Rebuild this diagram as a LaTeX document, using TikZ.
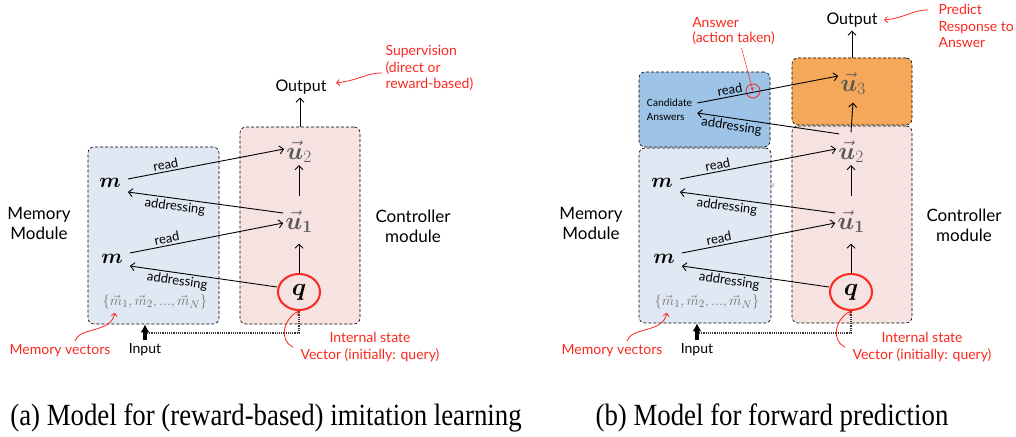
\documentclass[tikz,border=0pt]{standalone}
\usepackage{bm}
\usepackage{fontspec}
\setmainfont{Lato}
\newfontfamily\capfont{Liberation Serif}
\newfontfamily\calfont{Carlito}
\usetikzlibrary{arrows.meta,shapes.geometric,calc}
\definecolor{memblue}{RGB}{224,232,243}
\definecolor{ctrlpink}{RGB}{245,226,225}
\definecolor{candblue}{RGB}{157,195,230}
\definecolor{orng}{RGB}{246,168,90}
\definecolor{annot}{RGB}{250,40,30}
\definecolor{ugray}{RGB}{90,90,90}
\tikzset{
 box/.style={draw=black, densely dashed, rounded corners=6pt, line width=0.6pt, inner sep=0pt},
 arr/.style={line width=0.9pt, -{Straight Barb[length=4pt,width=8pt]}},
 lbl/.style={font=\fontsize{13}{15}\selectfont, inner sep=2pt},
 mnode/.style={font=\fontsize{21}{23}\selectfont, inner xsep=7pt, inner ysep=2pt},
 unode/.style={font=\fontsize{24}{26}\selectfont, text=ugray, inner sep=2pt},
 qnode/.style={ellipse, draw=annot, line width=2pt, minimum width=42pt, minimum height=36pt, inner sep=0pt, font=\fontsize{23}{25}\selectfont},
 big/.style={font=\fontsize{17}{20}\selectfont, align=center},
 outtxt/.style={font=\fontsize{16}{18}\selectfont},
 annotxt/.style={text=annot, font=\fontsize{14}{16.5}\selectfont},
 annarr/.style={draw=annot, line width=0.8pt, -{Straight Barb[length=3pt,width=6pt]}},
 inarr/.style={line width=3.2pt, -{Latex[length=8pt,width=9pt]}},
 feed/.style={densely dotted, line width=1.2pt, black!80},
 setnode/.style={font=\fontsize{15}{17}\selectfont, text=black!55},
 capt/.style={font=\capfont\fontsize{26.8}{30}\selectfont}
}
\begin{document}
\begin{tikzpicture}[x=1pt,y=-1pt]
\useasboundingbox (0,0) rectangle (1016,436);

% ================= panel (a) =================
\node[box, fill=memblue, minimum width=131pt, minimum height=177pt] (memA) at (153.5,235.5) {};
\node[box, fill=ctrlpink, minimum width=120pt, minimum height=197pt] (ctrlA) at (300,225.5) {};

\node[mnode] (ma1) at (110,183) {$\bm{m}$};
\node[mnode] (ma0) at (112,259) {$\bm{m}$};
\node[setnode] (seta) at (155,302) {$\{\vec{m}_1, \vec{m}_2, ..., \vec{m}_N\}$};
\node[unode] (ua2) at (299,152) {$\vec{\bm{u}}_2$};
\node[unode] (ua1) at (299,222) {$\vec{\bm{u}}_{\bm{1}}$};
\node[qnode] (qa) at (299,292) {$\bm{q}$};
\node[outtxt] (outA) at (301,87) {Output};
\node[big] (memlabA) at (39,223) {Memory\\Module};
\node[big] (ctrllabA) at (413,226) {Controller\\module};
\node[annotxt, align=left, anchor=west] (supA) at (382,68) {Supervision\\(direct or\\reward-based)};
\node[annotxt] (mvA) at (60,351) {Memory vectors};
\node[font=\fontsize{14}{16}\selectfont] (inA) at (145,350) {Input};
\node[annotxt, align=center] (isA) at (370,347) {Internal state\\Vector (initially: query)};
\coordinate (fa) at (147,333);

\draw[arr] (ctrlA.north) -- (ctrlA.north |- outA.south);
\draw[arr] (qa.north) -- ([yshift=-8.5pt]ua1.south);
\draw[arr] ([yshift=12.5pt]ua1.north) -- (ua2.south);
\draw[arr] ([yshift=4pt]ma1.east) -- node[lbl, above, sloped, pos=0.25]{read} ([yshift=3pt]ua2.west);
\draw[arr] ([yshift=9pt]ua1.west) -- node[lbl, below, sloped, pos=0.69]{addressing} ([yshift=-9pt]ma1.east);
\draw[arr] ([yshift=6pt]ma0.east) -- node[lbl, above, sloped, pos=0.25]{read} ([yshift=-1pt]ua1.west);
\draw[arr] ([yshift=5pt]qa.west) -- node[lbl, below, sloped, pos=0.67]{addressing} ([yshift=-7pt]ma0.east);
\draw[inarr] (inA.north) -- (inA.north |- memA.south);
\draw[feed] (fa) -| (qa.south);
\draw[annarr] ([yshift=-5pt]supA.west) .. controls (366,73) and (360,80) .. ([xshift=6pt,yshift=4pt]outA.east);
\draw[annarr] ([xshift=15pt]mvA.north) .. controls (80,326) and (110,334) .. ([xshift=-40pt]seta.south);
\draw[annarr] ([xshift=-4pt]isA.west) .. controls (278,340) and (284,318) .. (qa.south);

% ================= panel (b) =================
\node[box, fill=candblue, minimum width=131pt, minimum height=75pt] (candboxB) at (704.5,109.5) {};
\node[box, fill=memblue, minimum width=132pt, minimum height=175pt] (memB) at (705,235.5) {};
\node[box, fill=orng, minimum width=120pt, minimum height=67pt] (orngB) at (852,91.5) {};
\node[box, fill=ctrlpink, minimum width=120pt, minimum height=197pt] (ctrlB) at (852,224.5) {};

\node[font=\calfont\fontsize{11}{14}\selectfont, align=left, inner xsep=5pt, inner ysep=2pt] (cand) at (669.5,110) {Candidate\\Answers};
\node[mnode] (mb1) at (662,183) {$\bm{m}$};
\node[mnode] (mb0) at (664,259) {$\bm{m}$};
\node[setnode] (setb) at (707,302) {$\{\vec{m}_1, \vec{m}_2, ..., \vec{m}_N\}$};
\node[unode] (ub3) at (853,84) {$\vec{\bm{u}}_3$};
\node[unode] (ub2) at (851,152) {$\vec{\bm{u}}_2$};
\node[unode] (ub1) at (851,222) {$\vec{\bm{u}}_{\bm{1}}$};
\node[qnode] (qb) at (851,292) {$\bm{q}$};
\node[font=\fontsize{6}{7}\selectfont, text=gray] (tq) at (773,186) {$q$};
\node[outtxt] (outB) at (852,20) {Output};
\node[big] (memlabB) at (591,223) {Memory\\Module};
\node[big] (ctrllabB) at (964,225) {Controller\\module};
\node[annotxt, align=left, anchor=west] (predB) at (935,26) {Predict\\Response to\\Answer};
\node[annotxt, align=left, font=\fontsize{14}{15}\selectfont] (ansB) at (733.5,31) {Answer\\(action taken)};
\node[circle, draw=annot, line width=0.8pt, minimum size=14pt, inner sep=0pt] (acirc) at (753,91) {};
\node[annotxt] (mvB) at (612,351) {Memory vectors};
\node[font=\fontsize{14}{16}\selectfont] (inB) at (697,350) {Input};
\node[annotxt, align=center] (isB) at (922,347) {Internal state\\Vector (initially: query)};
\coordinate (fb) at (699,333);

\draw[arr] (orngB.north) -- (orngB.north |- outB.south);
\draw[arr] ([yshift=6.5pt]ub2.north) -- ([yshift=-5.5pt]ub3.south);
\draw[arr] (qb.north) -- ([yshift=-8.5pt]ub1.south);
\draw[arr] ([yshift=12.5pt]ub1.north) -- (ub2.south);
\draw[arr] ([yshift=7pt]cand.east) -- node[lbl, above, sloped, pos=0.24]{read} ([yshift=8pt]ub3.west);
\draw[arr] ([xshift=3pt,yshift=5pt]ub2.north west) -- node[lbl, below, sloped, pos=0.75]{addressing} ([yshift=-3pt]cand.east);
\draw[arr] ([yshift=4pt]mb1.east) -- node[lbl, above, sloped, pos=0.25]{read} ([yshift=3pt]ub2.west);
\draw[arr] ([yshift=9pt]ub1.west) -- node[lbl, below, sloped, pos=0.69]{addressing} ([yshift=-9pt]mb1.east);
\draw[arr] ([yshift=6pt]mb0.east) -- node[lbl, above, sloped, pos=0.25]{read} ([yshift=-1pt]ub1.west);
\draw[arr] ([yshift=5pt]qb.west) -- node[lbl, below, sloped, pos=0.67]{addressing} ([yshift=-7pt]mb0.east);
\draw[inarr] (inB.north) -- (inB.north |- memB.south);
\draw[feed] (fb) -| (qb.south);
\draw[annarr] ([xshift=-7pt,yshift=16pt]predB.west) .. controls (912,10) and (905,18) .. ([xshift=3pt]outB.east);
\draw[annot, line width=0.5pt, -{Stealth[length=4pt,width=3pt]}] ([xshift=8pt]ansB.south) -- (acirc.center);
\draw[annarr] ([xshift=15pt]mvB.north) .. controls (632,326) and (662,334) .. ([xshift=-40pt]setb.south);
\draw[annarr] ([xshift=-4pt]isB.west) .. controls (830,340) and (836,318) .. (qb.south);

% ================= captions =================
\node[capt] (capA) at (266,418) {\scalebox{1}[1.15]{(a) Model for (reward-based) imitation learning}};
\node[capt] (capB) at (772,418) {\scalebox{1}[1.15]{(b) Model for forward prediction}};
\end{tikzpicture}
\end{document}
